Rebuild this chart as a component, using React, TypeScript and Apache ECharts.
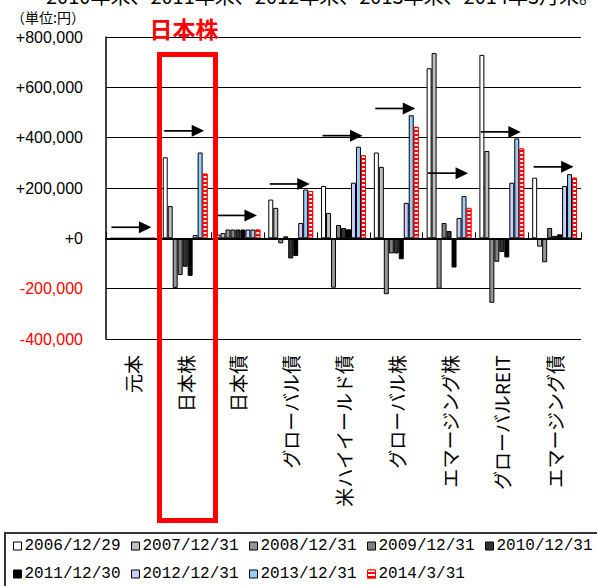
import React, { useEffect, useRef } from "react";
import * as echarts from "echarts";

// Asset classes on the category axis
const categories = [
  "元本",
  "日本株",
  "日本債",
  "グローバル債",
  "米ハイイールド債",
  "グローバル株",
  "エマージング株",
  "グローバルREIT",
  "エマージング債",
];

// Valuation gain/loss (円) at each date, one array per date
const v20061229 = [0, 322000, 15000, 154000, 208000, 341000, 676000, 729000, 241000];
const v20071231 = [0, 128000, 21000, 121000, 101000, 284000, 736000, 347000, -33000];
const v20081231 = [0, -197000, 35000, -20000, -196000, -222000, -200000, -256000, -95000];
const v20091231 = [0, -146000, 35000, 8000, 53000, -60000, 61000, -93000, 41000];
const v20101231 = [0, -113000, 35000, -80000, 41000, -60000, 29000, -54000, 10000];
const v20111230 = [0, -149000, 35000, -70000, 36000, -83000, -116000, -76000, 16000];
const v20121231 = [0, 13000, 35000, 61000, 221000, 141000, 81000, 221000, 208000];
const v20131231 = [0, 341000, 35000, 194000, 364000, 489000, 168000, 397000, 255000];
const v20140331 = [0, 257000, 35000, 188000, 330000, 443000, 121000, 357000, 241000];

// Level marked by the arrow above each asset class
const arrowLevels = [44000, 427000, 91000, 216000, 408000, 516000, 259000, 423000, 284000];

const dateNames = [
  "2006/12/29",
  "2007/12/31",
  "2008/12/31",
  "2009/12/31",
  "2010/12/31",
  "2011/12/30",
  "2012/12/31",
  "2013/12/31",
  "2014/3/31",
];
const dateValues = [
  v20061229,
  v20071231,
  v20081231,
  v20091231,
  v20101231,
  v20111230,
  v20121231,
  v20131231,
  v20140331,
];
const dateColors = [
  "#ffffff",
  "#c0c0c0",
  "#969696",
  "#808080",
  "#333333",
  "#000000",
  "#ccccff",
  "#99ccff",
  "#ff0000",
];

const yTicks = { min: -400000, max: 800000, step: 200000 };

const topNote = "2010年末、2011年末、2012年末、2013年末、2014年3月末。";
const unitLabel = "（単位:円）";
const highlightTitle = "日本株";

const JP_FONT = '"Noto Sans CJK JP", "Noto Sans", sans-serif';
const LEGEND_COLUMNS = 5;

function fmtYen(v: number): string {
  const abs = Math.abs(v).toLocaleString("en-US");
  if (v > 0) return "{pos|+" + abs + "}";
  if (v === 0) return "{pos|+0}";
  return "{neg|-" + abs + "}";
}

export default function App() {
  const ref = useRef<HTMLDivElement>(null);

  useEffect(() => {
    if (!ref.current) return;
    const chart = echarts.init(ref.current, undefined, { renderer: "svg" });

    const barSeries = dateNames.map((name, i) => {
      const isStriped = i === 8;
      return {
        name,
        type: "bar",
        xAxisIndex: 0,
        yAxisIndex: 0,
        barGap: "0%",
        barCategoryGap: "15%",
        data: dateValues[i],
        itemStyle: {
          color: dateColors[i],
          borderColor: isStriped ? "#ff0000" : "#000000",
          borderWidth: 1,
          decal: isStriped
            ? {
                symbol: "rect",
                color: "#ffffff",
                dashArrayX: [[8, 0]],
                dashArrayY: [1.5, 1.5],
                symbolSize: 1,
                rotation: 0,
              }
            : "none",
        },
        z: 2,
      };
    });

    const arrowSeries = {
      type: "custom",
      xAxisIndex: 0,
      yAxisIndex: 0,
      z: 5,
      silent: true,
      data: arrowLevels.map((v, i) => [i, v]),
      encode: { x: 0, y: 1 },
      renderItem: (_params: any, api: any) => {
        const p = api.coord([api.value(0), api.value(1)]);
        const w = api.size([1, 0])[0];
        const tip = p[0] + w * 0.36;
        const y = p[1];
        return {
          type: "group",
          children: [
            {
              type: "line",
              shape: { x1: tip - 40, y1: y, x2: tip - 10, y2: y },
              style: { stroke: "#000000", lineWidth: 1.7 },
            },
            {
              type: "polygon",
              shape: {
                points: [
                  [tip, y],
                  [tip - 12.5, y - 6],
                  [tip - 12.5, y + 6],
                ],
              },
              style: { fill: "#000000" },
            },
          ],
        };
      },
    };

    // one legend block per date, laid out on a fixed grid of columns
    const legends = dateNames.map((name, i) => {
      const col = i % LEGEND_COLUMNS;
      const row = Math.floor(i / LEGEND_COLUMNS);
      return {
        left: 13 + col * 118,
        top: 538 + row * 28,
        padding: 0,
        orient: "horizontal",
        icon: "rect",
        itemWidth: 8,
        itemHeight: 8,
        selectedMode: false,
        itemStyle: {
          borderColor: i === 8 ? "#ff0000" : "#000000",
          borderWidth: 1,
        },
        textStyle: {
          fontFamily: '"Liberation Mono", "DejaVu Sans Mono", monospace',
          fontSize: 16,
          color: "#000000",
          padding: [0, 0, 0, -2],
        },
        z: 10,
        data: [{ name }],
      };
    });

    chart.setOption({
      animation: false,
      backgroundColor: "#ffffff",
      grid: { left: 106, top: 37, width: 475, height: 302, containLabel: false },
      legend: legends,
      xAxis: [
        {
          type: "category",
          data: categories,
          position: "bottom",
          axisLine: { onZero: true, lineStyle: { color: "#000000", width: 2 } },
          axisTick: {
            show: true,
            inside: true,
            length: 6,
            interval: 0,
            lineStyle: { color: "#000000", width: 1 },
          },
          axisLabel: { show: false },
          z: 3,
        },
        {
          type: "category",
          data: categories,
          position: "bottom",
          axisLine: { show: false, onZero: false },
          axisTick: { show: false },
          axisLabel: {
            show: true,
            interval: 0,
            rotate: 90,
            margin: 16,
            fontFamily: JP_FONT,
            fontSize: 19,
            color: "#000000",
          },
        },
      ],
      yAxis: {
        type: "value",
        min: yTicks.min,
        max: yTicks.max,
        interval: yTicks.step,
        axisLine: { show: true, lineStyle: { color: "#000000", width: 1.5 } },
        axisTick: { show: false },
        splitLine: { show: true, lineStyle: { color: "#000000", width: 1.2 } },
        axisLabel: {
          margin: 23,
          formatter: (v: number) => fmtYen(v),
          rich: {
            pos: {
              color: "#000000",
              fontSize: 16,
              fontFamily: '"Liberation Sans", Arial, sans-serif',
            },
            neg: {
              color: "#ff0000",
              fontSize: 16,
              fontFamily: '"Liberation Sans", Arial, sans-serif',
            },
          },
        },
      },
      series: [...barSeries, arrowSeries],
      graphic: [
        {
          type: "text",
          left: 46,
          top: -15,
          z: 1,
          style: {
            text: topNote,
            fontSize: 20,
            lineHeight: 20,
            fontFamily: JP_FONT,
            fill: "#000000",
          },
        },
        {
          type: "text",
          left: 11,
          top: 10,
          z: 1,
          style: {
            text: unitLabel,
            fontSize: 14,
            lineHeight: 14,
            fontFamily: JP_FONT,
            fill: "#000000",
          },
        },
        {
          type: "text",
          x: 184,
          y: 28,
          z: 20,
          style: {
            text: highlightTitle,
            fontSize: 23,
            fontWeight: "bold",
            fontFamily: JP_FONT,
            fill: "#ff0000",
            align: "center",
            verticalAlign: "middle",
          },
        },
        {
          type: "rect",
          z: 20,
          shape: { x: 159.5, y: 54.5, width: 56, height: 466 },
          style: { fill: "none", stroke: "#ff0000", lineWidth: 5 },
        },
        {
          type: "rect",
          z: 0,
          shape: { x: 5, y: 533, width: 650, height: 80 },
          style: { fill: "#ffffff", stroke: "#333333", lineWidth: 2 },
        },
      ],
    });

    return () => {
      chart.dispose();
    };
  }, []);

  return (
    <div
      ref={ref}
      style={{ position: "fixed", left: 0, top: 0, width: 597, height: 586 }}
    />
  );
}
